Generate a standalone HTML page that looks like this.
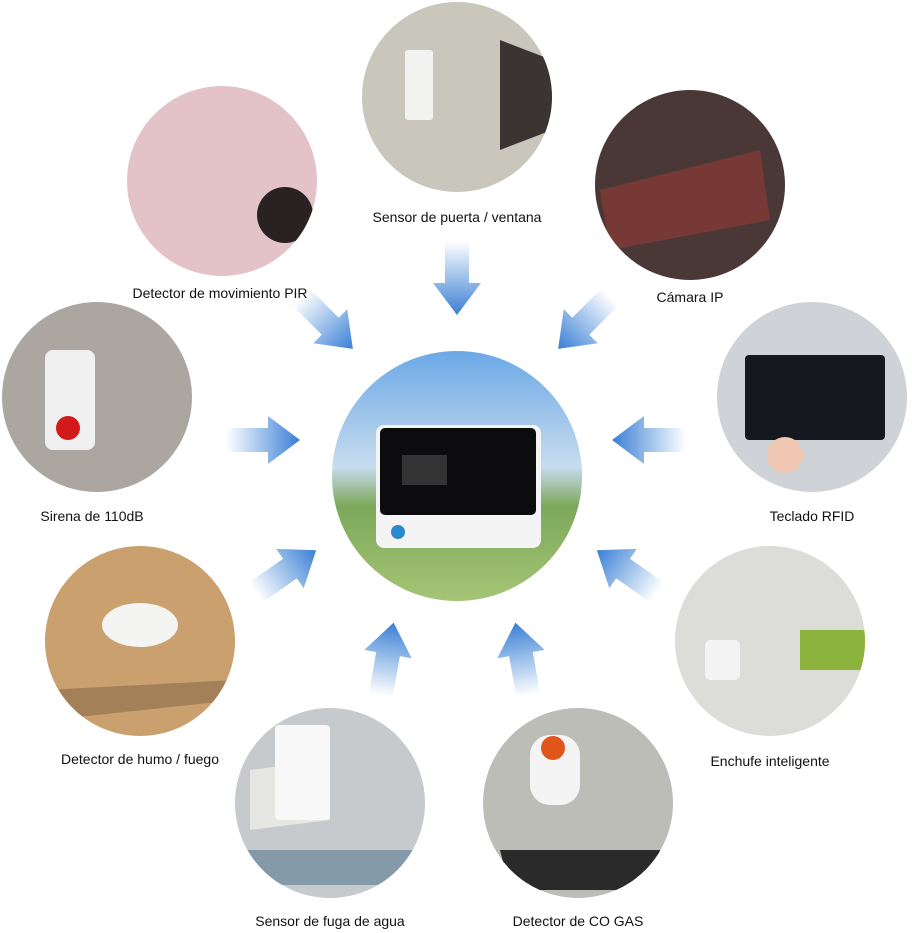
<!DOCTYPE html>
<html><head><meta charset="utf-8"><style>
html,body{margin:0;padding:0;background:#fff;}
body{width:912px;height:933px;position:relative;overflow:hidden;font-family:"Liberation Sans",sans-serif;}
.l{position:absolute;font-size:14px;color:#111;white-space:nowrap;transform:translateX(-50%);}
</style></head><body>
<svg width="912" height="933" style="position:absolute;left:0;top:0">
<defs>
<linearGradient id="ag" x1="0" y1="0" x2="1" y2="0">
<stop offset="0" stop-color="#ffffff"/><stop offset="0.5" stop-color="#9cc0ea"/><stop offset="1" stop-color="#3a7fd5"/></linearGradient>
<g id="arr"><polygon points="-36,-12 6,-12 6,-24 38,0 6,24 6,12 -36,12" fill="url(#ag)"/></g>
<linearGradient id="cg" x1="0" y1="0" x2="0" y2="1"><stop offset="0" stop-color="#6aa8e6"/><stop offset="0.45" stop-color="#c8dcee"/><stop offset="0.6" stop-color="#7da85a"/><stop offset="1" stop-color="#a8c878"/></linearGradient>
<clipPath id="c0"><circle cx="457" cy="476" r="125"/></clipPath>
<clipPath id="c1"><circle cx="457" cy="97" r="95"/></clipPath>
<clipPath id="c2"><circle cx="222" cy="181" r="95"/></clipPath>
<clipPath id="c3"><circle cx="690" cy="185" r="95"/></clipPath>
<clipPath id="c4"><circle cx="97" cy="397" r="95"/></clipPath>
<clipPath id="c5"><circle cx="812" cy="397" r="95"/></clipPath>
<clipPath id="c6"><circle cx="140" cy="641" r="95"/></clipPath>
<clipPath id="c7"><circle cx="770" cy="641" r="95"/></clipPath>
<clipPath id="c8"><circle cx="330" cy="803" r="95"/></clipPath>
<clipPath id="c9"><circle cx="578" cy="803" r="95"/></clipPath>
</defs>
<use href="#arr" transform="translate(457,277) rotate(90)"/>
<use href="#arr" transform="translate(326,322) rotate(45)"/>
<use href="#arr" transform="translate(585,322) rotate(135)"/>
<use href="#arr" transform="translate(262,440)"/>
<use href="#arr" transform="translate(650,440) rotate(180)"/>
<use href="#arr" transform="translate(285,572) rotate(-35)"/>
<use href="#arr" transform="translate(628,572) rotate(215)"/>
<use href="#arr" transform="translate(387,660) rotate(-80)"/>
<use href="#arr" transform="translate(522,660) rotate(-100)"/>
<g clip-path="url(#c1)"><rect x="360" y="0" width="200" height="200" fill="#c9c6bc"/>
<rect x="405" y="50" width="28" height="70" fill="#f2f2f0" rx="3"/>
<path d="M500 40 L552 60 L552 130 L500 150Z" fill="#3a3432"/></g>
<g clip-path="url(#c2)"><rect x="120" y="80" width="210" height="210" fill="#e4c3c8"/>
<circle cx="285" cy="215" r="28" fill="#2a2222"/></g>
<g clip-path="url(#c3)"><rect x="590" y="85" width="200" height="200" fill="#4a3836"/>
<path d="M600 190 L760 150 L770 220 L610 250Z" fill="#8a3a36" opacity="0.7"/></g>
<g clip-path="url(#c4)"><rect x="0" y="300" width="200" height="200" fill="#aca6a0"/>
<rect x="45" y="350" width="50" height="100" rx="8" fill="#f0f0f0"/>
<circle cx="68" cy="428" r="12" fill="#d21a1a"/></g>
<g clip-path="url(#c5)"><rect x="715" y="300" width="200" height="200" fill="#cfd2d6"/>
<rect x="745" y="355" width="140" height="85" rx="4" fill="#15181e"/>
<circle cx="785" cy="455" r="18" fill="#f0c8b4"/></g>
<g clip-path="url(#c0)"><rect x="330" y="350" width="260" height="260" fill="url(#cg)"/><rect x="376" y="425" width="165" height="123" rx="8" fill="#f4f4f4"/><rect x="380" y="428" width="156" height="87" rx="5" fill="#0c0c0e"/><rect x="402" y="455" width="45" height="30" fill="#333"/><circle cx="398" cy="532" r="7" fill="#2a8ad0"/></g>
<g clip-path="url(#c6)"><rect x="40" y="540" width="200" height="200" fill="#c9a06e"/>
<ellipse cx="140" cy="625" rx="38" ry="22" fill="#f4f4f2"/>
<path d="M45 690 L236 680 L236 700 L50 720Z" fill="#8c6a4a" opacity="0.6"/></g>
<g clip-path="url(#c7)"><rect x="670" y="540" width="200" height="200" fill="#dcdcd8"/>
<rect x="800" y="630" width="65" height="40" fill="#8cb43c"/>
<rect x="705" y="640" width="35" height="40" rx="5" fill="#f4f4f4"/></g>
<g clip-path="url(#c8)"><rect x="230" y="705" width="200" height="200" fill="#c6cacd"/>
<path d="M250 770 L330 760 L330 820 L250 830Z" fill="#e6e6e2"/>
<rect x="275" y="725" width="55" height="95" rx="4" fill="#f8f8f8"/>
<path d="M240 850 L420 850 L410 885 L260 885Z" fill="#5a7a90" opacity="0.6"/></g>
<g clip-path="url(#c9)"><rect x="480" y="705" width="200" height="200" fill="#bdbdb8"/>
<rect x="530" y="735" width="50" height="70" rx="20" fill="#f4f4f4"/>
<circle cx="553" cy="748" r="12" fill="#e0561a"/>
<path d="M500 850 L660 850 L650 890 L510 890Z" fill="#2a2a2a"/></g>
</svg>
<div class="l" style="left:457px;top:209px">Sensor de puerta / ventana</div>
<div class="l" style="left:220px;top:285px">Detector de movimiento PIR</div>
<div class="l" style="left:690px;top:289px">Cámara IP</div>
<div class="l" style="left:92px;top:508px">Sirena de 110dB</div>
<div class="l" style="left:812px;top:508px">Teclado RFID</div>
<div class="l" style="left:140px;top:751px">Detector de humo / fuego</div>
<div class="l" style="left:770px;top:753px">Enchufe inteligente</div>
<div class="l" style="left:330px;top:913px">Sensor de fuga de agua</div>
<div class="l" style="left:578px;top:913px">Detector de CO GAS</div>
</body></html>
